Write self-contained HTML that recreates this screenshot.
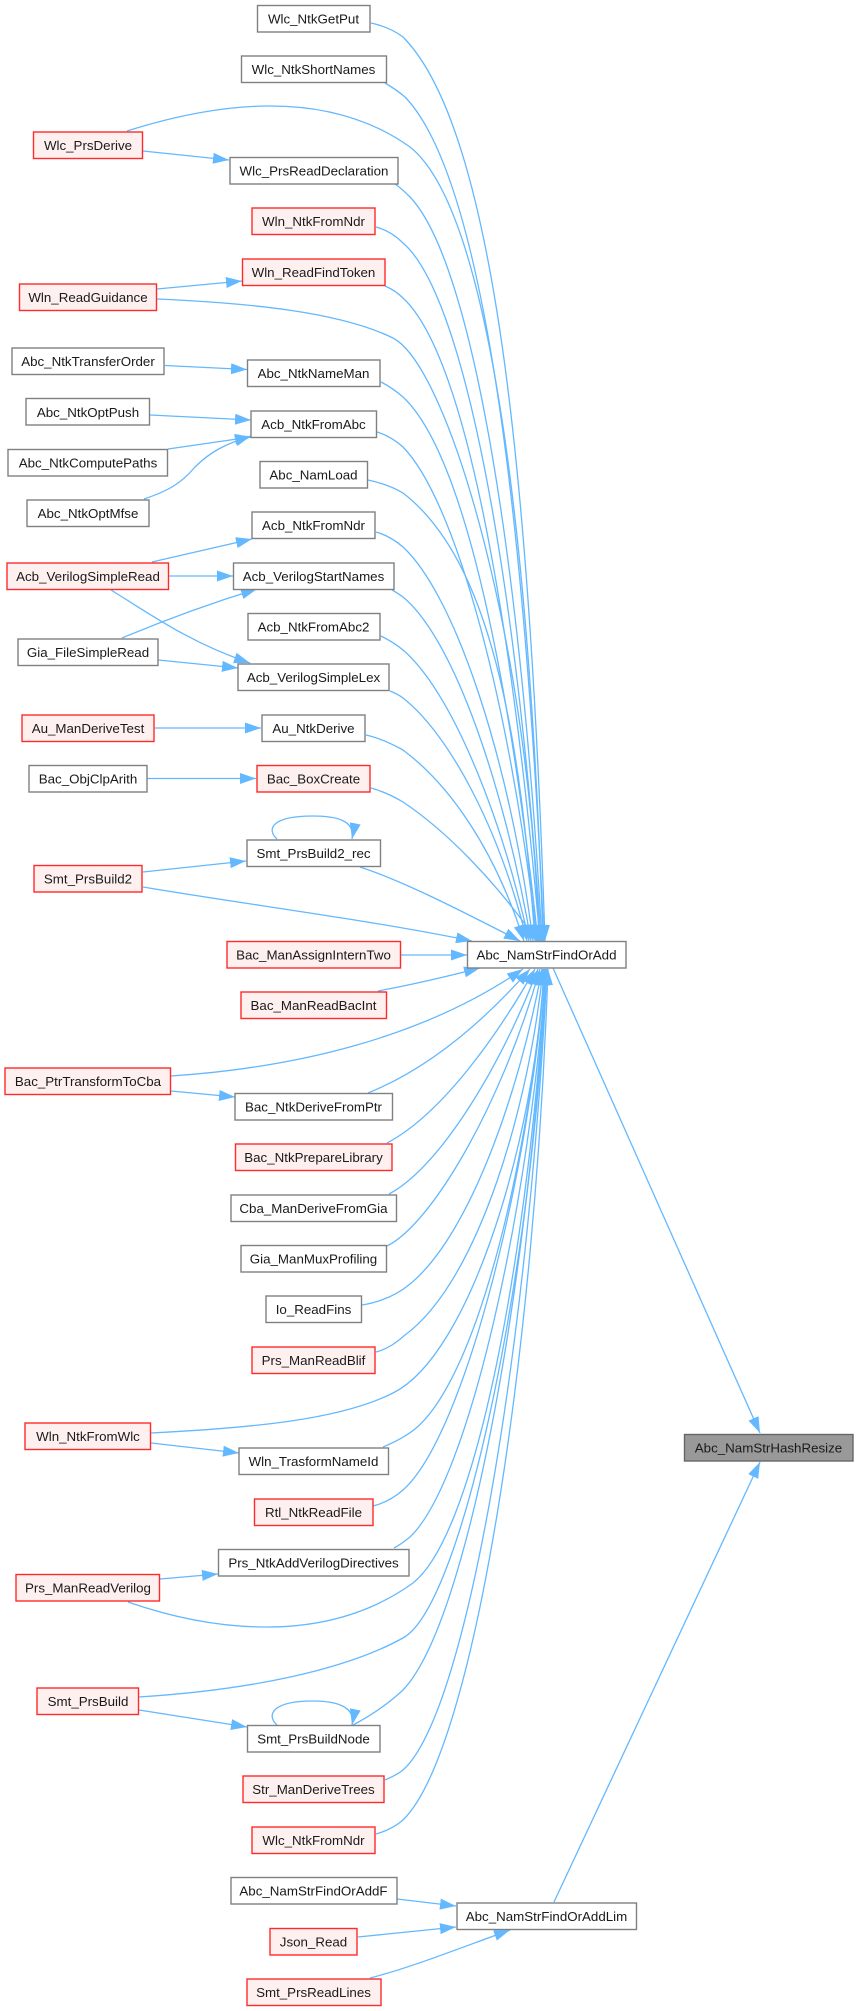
<!DOCTYPE html>
<html><head><meta charset="utf-8"><style>
html,body{margin:0;padding:0;background:#fff}
svg{display:block;filter:blur(0.3px)}
text{font-family:"Liberation Sans",Arial,sans-serif;font-size:13.33px;fill:#1a1a1a;text-anchor:middle}
.n rect{fill:#fff;stroke:#808080;stroke-width:1.4}
.r rect{fill:#fff0f0;stroke:#ff2a2a;stroke-width:1.4}
.e path{fill:none;stroke:#63b8ff;stroke-width:1.3;marker-end:url(#a)}
</style></head><body>
<svg width="858" height="2011" viewBox="0 0 858 2011" xmlns="http://www.w3.org/2000/svg">
<defs><marker id="a" markerUnits="userSpaceOnUse" markerWidth="18" markerHeight="14" refX="16" refY="6" orient="auto"><path d="M0,0.5 L16,6 L0,11.5 Z" fill="#63b8ff" stroke="none"/></marker></defs>
<g class="e">
<path d="M371,23 C385,26 395,31 403,37 C495,130 530,480 545,941"/>
<path d="M385,83 C392,87 399,92 405,97 C485,180 525,520 544,941"/>
<path d="M127,131 C225,100 330,90 410,147 C490,210 530,540 543,941"/>
<path d="M395,184 C401,188 405,192 410,197 C475,265 522,580 542,941"/>
<path d="M376,227 C387,230 396,236 403,243 C470,300 520,620 541,941"/>
<path d="M385,286 C392,289 398,293 403,298 C470,360 515,650 540,941"/>
<path d="M157,299 C250,303 340,312 393,338 C450,368 530,650 539,941"/>
<path d="M381,382 C389,386 396,391 403,397 C465,455 510,680 538,941"/>
<path d="M377,432 C387,435 395,440 403,447 C455,500 510,700 537,941"/>
<path d="M368,480 C382,483 393,487 403,493 C490,560 520,730 535,941"/>
<path d="M376,532 C387,535 396,541 403,547 C455,595 510,760 533,941"/>
<path d="M392,590 C396,592 400,595 403,597 C455,640 505,790 531,941"/>
<path d="M381,636 C389,640 397,645 403,650 C450,690 500,810 529,941"/>
<path d="M390,691 C395,693 399,695 403,698 C450,735 500,830 527,941"/>
<path d="M366,735 C380,738 392,744 403,750 C450,785 495,850 524,941"/>
<path d="M371,788 C382,791 393,796 403,802 C445,830 495,880 537,941"/>
<path d="M360,867 C400,880 450,905 520,941"/>
<path d="M143,887 C250,905 370,920 472,941"/>
<path d="M401,955 L467,955"/>
<path d="M378,991 C410,985 445,977 480,968"/>
<path d="M171,1076 C290,1068 420,1040 523,969"/>
<path d="M368,1093 C430,1068 485,1020 530,969"/>
<path d="M387,1143 C440,1115 495,1040 535,969"/>
<path d="M389,1194 C435,1170 495,1080 538,969"/>
<path d="M387,1246 C430,1225 500,1110 540,969"/>
<path d="M362,1305 C380,1302 397,1295 410,1284 C470,1235 520,1090 542,969"/>
<path d="M376,1352 C388,1349 397,1342 405,1335 C480,1280 530,1100 543,969"/>
<path d="M151,1433 C250,1428 340,1420 393,1393 C470,1355 535,1140 544,969"/>
<path d="M383,1447 C395,1442 405,1437 415,1429 C480,1375 530,1150 545,969"/>
<path d="M373,1506 C385,1503 395,1497 403,1490 C465,1435 530,1170 545,969"/>
<path d="M394,1548 C400,1545 405,1541 410,1537 C470,1480 530,1200 546,969"/>
<path d="M128,1602 C200,1627 320,1650 413,1583 C480,1530 530,1230 546,969"/>
<path d="M139,1697 C250,1690 345,1670 403,1638 C465,1604 535,1250 546,969"/>
<path d="M353,1725 C370,1716 388,1704 403,1690 C470,1620 530,1270 546,969"/>
<path d="M385,1780 C392,1777 398,1774 403,1770 C470,1710 530,1320 547,969"/>
<path d="M376,1834 C387,1831 396,1826 403,1820 C475,1750 535,1350 548,969"/>
<path d="M143,151 L229,160"/>
<path d="M157,289 L242,281"/>
<path d="M165,365.500 L247,369.500"/>
<path d="M150,415 L251,420"/>
<path d="M168,449 L251,437"/>
<path d="M144,499 C165,492 180,485 195,467 C210,452 225,444 251,436"/>
<path d="M152,562 L252,539"/>
<path d="M169,576 L233,576"/>
<path d="M111,590 C150,614 190,643 250,663"/>
<path d="M122,638 C165,620 205,605 257,589"/>
<path d="M158,660 L238,668"/>
<path d="M155,728 L261,728"/>
<path d="M147,778.500 L256,778.500"/>
<path d="M143,872 L246,861"/>
<path d="M277,839 C266,829 272,816 313,816 C335,816 356,820 352,839"/>
<path d="M171,1091 L235,1097"/>
<path d="M151,1443 L239,1453"/>
<path d="M160,1579 L218,1574"/>
<path d="M139,1710 L247,1727"/>
<path d="M277,1725 C266,1715 272,1701 313,1701 C335,1701 356,1706 352,1725"/>
<path d="M397,1899 L456,1906"/>
<path d="M358,1937 L456,1927"/>
<path d="M370,1978 C410,1968 460,1948 510,1930"/>
<path d="M553,968 L760,1433"/>
<path d="M554,1902 L760,1462"/>
</g>
<g class="n"><rect x="257.500" y="5.500" width="112.500" height="26.500"/><text x="313.500" y="23.500">Wlc_NtkGetPut</text></g>
<g class="n"><rect x="241.500" y="56" width="145" height="26.500"/><text x="313.500" y="74">Wlc_NtkShortNames</text></g>
<g class="r"><rect x="33.500" y="132" width="109" height="26.500"/><text x="88" y="150">Wlc_PrsDerive</text></g>
<g class="n"><rect x="230" y="157.500" width="168" height="26.500"/><text x="314" y="175.500">Wlc_PrsReadDeclaration</text></g>
<g class="r"><rect x="252" y="208" width="123" height="26.500"/><text x="313.500" y="226">Wln_NtkFromNdr</text></g>
<g class="r"><rect x="242.500" y="259" width="142.500" height="26.500"/><text x="313.500" y="277">Wln_ReadFindToken</text></g>
<g class="r"><rect x="19.500" y="284" width="137" height="26.500"/><text x="88" y="302">Wln_ReadGuidance</text></g>
<g class="n"><rect x="12" y="348" width="152" height="26.500"/><text x="88" y="366">Abc_NtkTransferOrder</text></g>
<g class="n"><rect x="247.500" y="360" width="132.500" height="26.500"/><text x="313.500" y="378">Abc_NtkNameMan</text></g>
<g class="n"><rect x="26" y="398.500" width="123.500" height="26.500"/><text x="88" y="417">Abc_NtkOptPush</text></g>
<g class="n"><rect x="251" y="411" width="125.500" height="26.500"/><text x="313.500" y="429">Acb_NtkFromAbc</text></g>
<g class="n"><rect x="8" y="449.500" width="159.500" height="26.500"/><text x="88" y="467.500">Abc_NtkComputePaths</text></g>
<g class="n"><rect x="260" y="461.500" width="107.500" height="26.500"/><text x="313.500" y="479.500">Abc_NamLoad</text></g>
<g class="n"><rect x="27" y="500" width="122" height="26.500"/><text x="88" y="518">Abc_NtkOptMfse</text></g>
<g class="n"><rect x="252" y="512" width="123" height="26.500"/><text x="313.500" y="530">Acb_NtkFromNdr</text></g>
<g class="r"><rect x="7" y="563" width="161.500" height="26.500"/><text x="88" y="581">Acb_VerilogSimpleRead</text></g>
<g class="n"><rect x="233.500" y="563" width="160.500" height="26.500"/><text x="313.500" y="581">Acb_VerilogStartNames</text></g>
<g class="n"><rect x="248" y="613.500" width="132" height="26.500"/><text x="313.500" y="631.500">Acb_NtkFromAbc2</text></g>
<g class="n"><rect x="18" y="639" width="140" height="26.500"/><text x="88" y="657">Gia_FileSimpleRead</text></g>
<g class="n"><rect x="238" y="664" width="151" height="26.500"/><text x="313.500" y="682">Acb_VerilogSimpleLex</text></g>
<g class="r"><rect x="22" y="715" width="132" height="26.500"/><text x="88" y="733">Au_ManDeriveTest</text></g>
<g class="n"><rect x="262" y="715" width="103" height="26.500"/><text x="313.500" y="733">Au_NtkDerive</text></g>
<g class="n"><rect x="29" y="765.500" width="118" height="26.500"/><text x="88" y="783.500">Bac_ObjClpArith</text></g>
<g class="r"><rect x="257" y="765.500" width="113" height="26.500"/><text x="313.500" y="783.500">Bac_BoxCreate</text></g>
<g class="n"><rect x="247" y="840" width="133.500" height="26.500"/><text x="313.500" y="858">Smt_PrsBuild2_rec</text></g>
<g class="r"><rect x="34" y="865.500" width="108" height="26.500"/><text x="88" y="883.500">Smt_PrsBuild2</text></g>
<g class="r"><rect x="227" y="941.500" width="173.500" height="26.500"/><text x="313.500" y="959.500">Bac_ManAssignInternTwo</text></g>
<g class="n"><rect x="467.500" y="941.500" width="158.500" height="26.500"/><text x="546.500" y="959.500">Abc_NamStrFindOrAdd</text></g>
<g class="r"><rect x="241" y="992" width="145.500" height="26.500"/><text x="313.500" y="1010">Bac_ManReadBacInt</text></g>
<g class="r"><rect x="5" y="1068" width="165.500" height="26.500"/><text x="88" y="1086">Bac_PtrTransformToCba</text></g>
<g class="n"><rect x="235" y="1093.500" width="157.500" height="26.500"/><text x="313.500" y="1111.500">Bac_NtkDeriveFromPtr</text></g>
<g class="r"><rect x="235.500" y="1144" width="156.500" height="26.500"/><text x="313.500" y="1162">Bac_NtkPrepareLibrary</text></g>
<g class="n"><rect x="231" y="1195" width="165.500" height="26.500"/><text x="313.500" y="1213">Cba_ManDeriveFromGia</text></g>
<g class="n"><rect x="241" y="1245.500" width="145.500" height="26.500"/><text x="313.500" y="1263.500">Gia_ManMuxProfiling</text></g>
<g class="n"><rect x="266" y="1296" width="95.500" height="26.500"/><text x="313.500" y="1314">Io_ReadFins</text></g>
<g class="r"><rect x="252" y="1347" width="123" height="26.500"/><text x="313.500" y="1365">Prs_ManReadBlif</text></g>
<g class="r"><rect x="25" y="1423" width="125.500" height="26.500"/><text x="88" y="1441">Wln_NtkFromWlc</text></g>
<g class="n"><rect x="239" y="1448" width="149.500" height="26.500"/><text x="313.500" y="1466">Wln_TrasformNameId</text></g>
<g><rect x="684.500" y="1434.500" width="168.500" height="26.500" fill="#999999" stroke="#666666" stroke-width="1.4"/><text x="768.500" y="1452.500">Abc_NamStrHashResize</text></g>
<g class="r"><rect x="254.500" y="1499" width="118.500" height="26.500"/><text x="313.500" y="1517">Rtl_NtkReadFile</text></g>
<g class="n"><rect x="218.500" y="1549.500" width="190.500" height="26.500"/><text x="313.500" y="1567.500">Prs_NtkAddVerilogDirectives</text></g>
<g class="r"><rect x="16" y="1574.500" width="143.500" height="26.500"/><text x="88" y="1592.500">Prs_ManReadVerilog</text></g>
<g class="r"><rect x="37" y="1688" width="101.500" height="26.500"/><text x="88" y="1706">Smt_PrsBuild</text></g>
<g class="n"><rect x="247.500" y="1725.500" width="132.500" height="26.500"/><text x="313.500" y="1743.500">Smt_PrsBuildNode</text></g>
<g class="r"><rect x="243" y="1776" width="141" height="26.500"/><text x="313.500" y="1794">Str_ManDeriveTrees</text></g>
<g class="r"><rect x="252" y="1827" width="123" height="26.500"/><text x="313.500" y="1845">Wlc_NtkFromNdr</text></g>
<g class="n"><rect x="231" y="1877.500" width="166" height="26.500"/><text x="313.500" y="1895.500">Abc_NamStrFindOrAddF</text></g>
<g class="n"><rect x="457" y="1903" width="179.500" height="26.500"/><text x="546.500" y="1921">Abc_NamStrFindOrAddLim</text></g>
<g class="r"><rect x="270" y="1928.500" width="87" height="26.500"/><text x="313.500" y="1946.500">Json_Read</text></g>
<g class="r"><rect x="247" y="1979" width="134" height="26.500"/><text x="313.500" y="1997">Smt_PrsReadLines</text></g>
</svg>
</body></html>
